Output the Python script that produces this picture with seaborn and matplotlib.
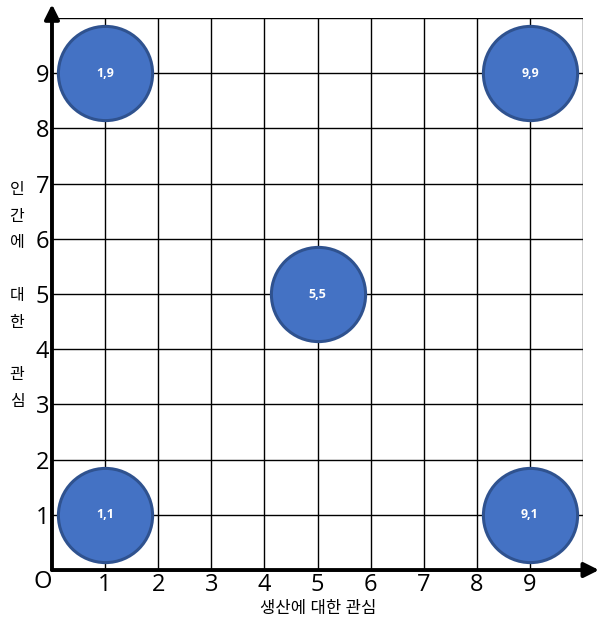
import pandas as pd
import seaborn as sns
import matplotlib.pyplot as plt

# 5 styles of the managerial grid
prod_concern = [1, 1, 5, 9, 9]
people_concern = [1, 9, 5, 1, 9]
point_labels = ['1,1', '1,9', '5,5', '9,1', '9,9']
tick_values = list(range(1, 11))
tick_labels = [str(v) for v in range(1, 10)] + ['']
x_title = '생산에 대한 관심'
y_title_chars = ['인', '간', '에', '', '대', '한', '', '관', '심']

sns.set_style('white')
plt.rcParams['font.family'] = ['Open Sans', 'Noto Sans CJK KR', 'DejaVu Sans']

df = pd.DataFrame({'x': prod_concern, 'y': people_concern, 'label': point_labels})

fig = plt.figure(figsize=(6.08, 6.24), dpi=100)
ax = fig.add_axes([0.0855, 0.0865, 0.8735, 0.8845])

sns.scatterplot(data=df, x='x', y='y', s=4600, color='#4472C4',
                edgecolor='#2F528F', linewidth=2.2, ax=ax, zorder=3, clip_on=False)
for _, row in df.iterrows():
    ax.text(row['x'], row['y'], row['label'], color='white', fontsize=9,
            fontweight='bold', ha='center', va='center', zorder=4)

ax.set_xlim(0, 10)
ax.set_ylim(0, 10)
ax.set_xticks(tick_values)
ax.set_yticks(tick_values)
ax.set_xticklabels(tick_labels, fontsize=17)
ax.set_yticklabels(tick_labels, fontsize=17)
ax.tick_params(length=0, pad=2, labelcolor='black')
ax.grid(True, color='black', linewidth=1)
ax.set_axisbelow(True)
ax.set_xlabel('')
ax.set_ylabel('')

for side in ['top', 'right', 'left', 'bottom']:
    ax.spines[side].set_visible(False)

# axes with arrow heads
ax.annotate('', xy=(10.3, 0), xytext=(0, 0), annotation_clip=False,
            arrowprops=dict(arrowstyle='-|>', lw=2.8, color='black', mutation_scale=22,
                            shrinkA=0, shrinkB=0))
ax.annotate('', xy=(0, 10.25), xytext=(0, 0), annotation_clip=False,
            arrowprops=dict(arrowstyle='-|>', lw=2.8, color='black', mutation_scale=22,
                            shrinkA=0, shrinkB=0))

ax.text(-0.18, -0.22, 'O', fontsize=17, ha='center', va='center', color='black')
fig.text(318 / 608, 1 - 609 / 624, x_title, fontsize=12, ha='center', va='center',
         color='black')
for i, ch in enumerate(y_title_chars):
    if ch:
        fig.text(17 / 608, 1 - (190 + i * 26.5) / 624, ch, fontsize=11.5,
                 ha='center', va='center', color='black')

fig.savefig('out.png', dpi=100)
